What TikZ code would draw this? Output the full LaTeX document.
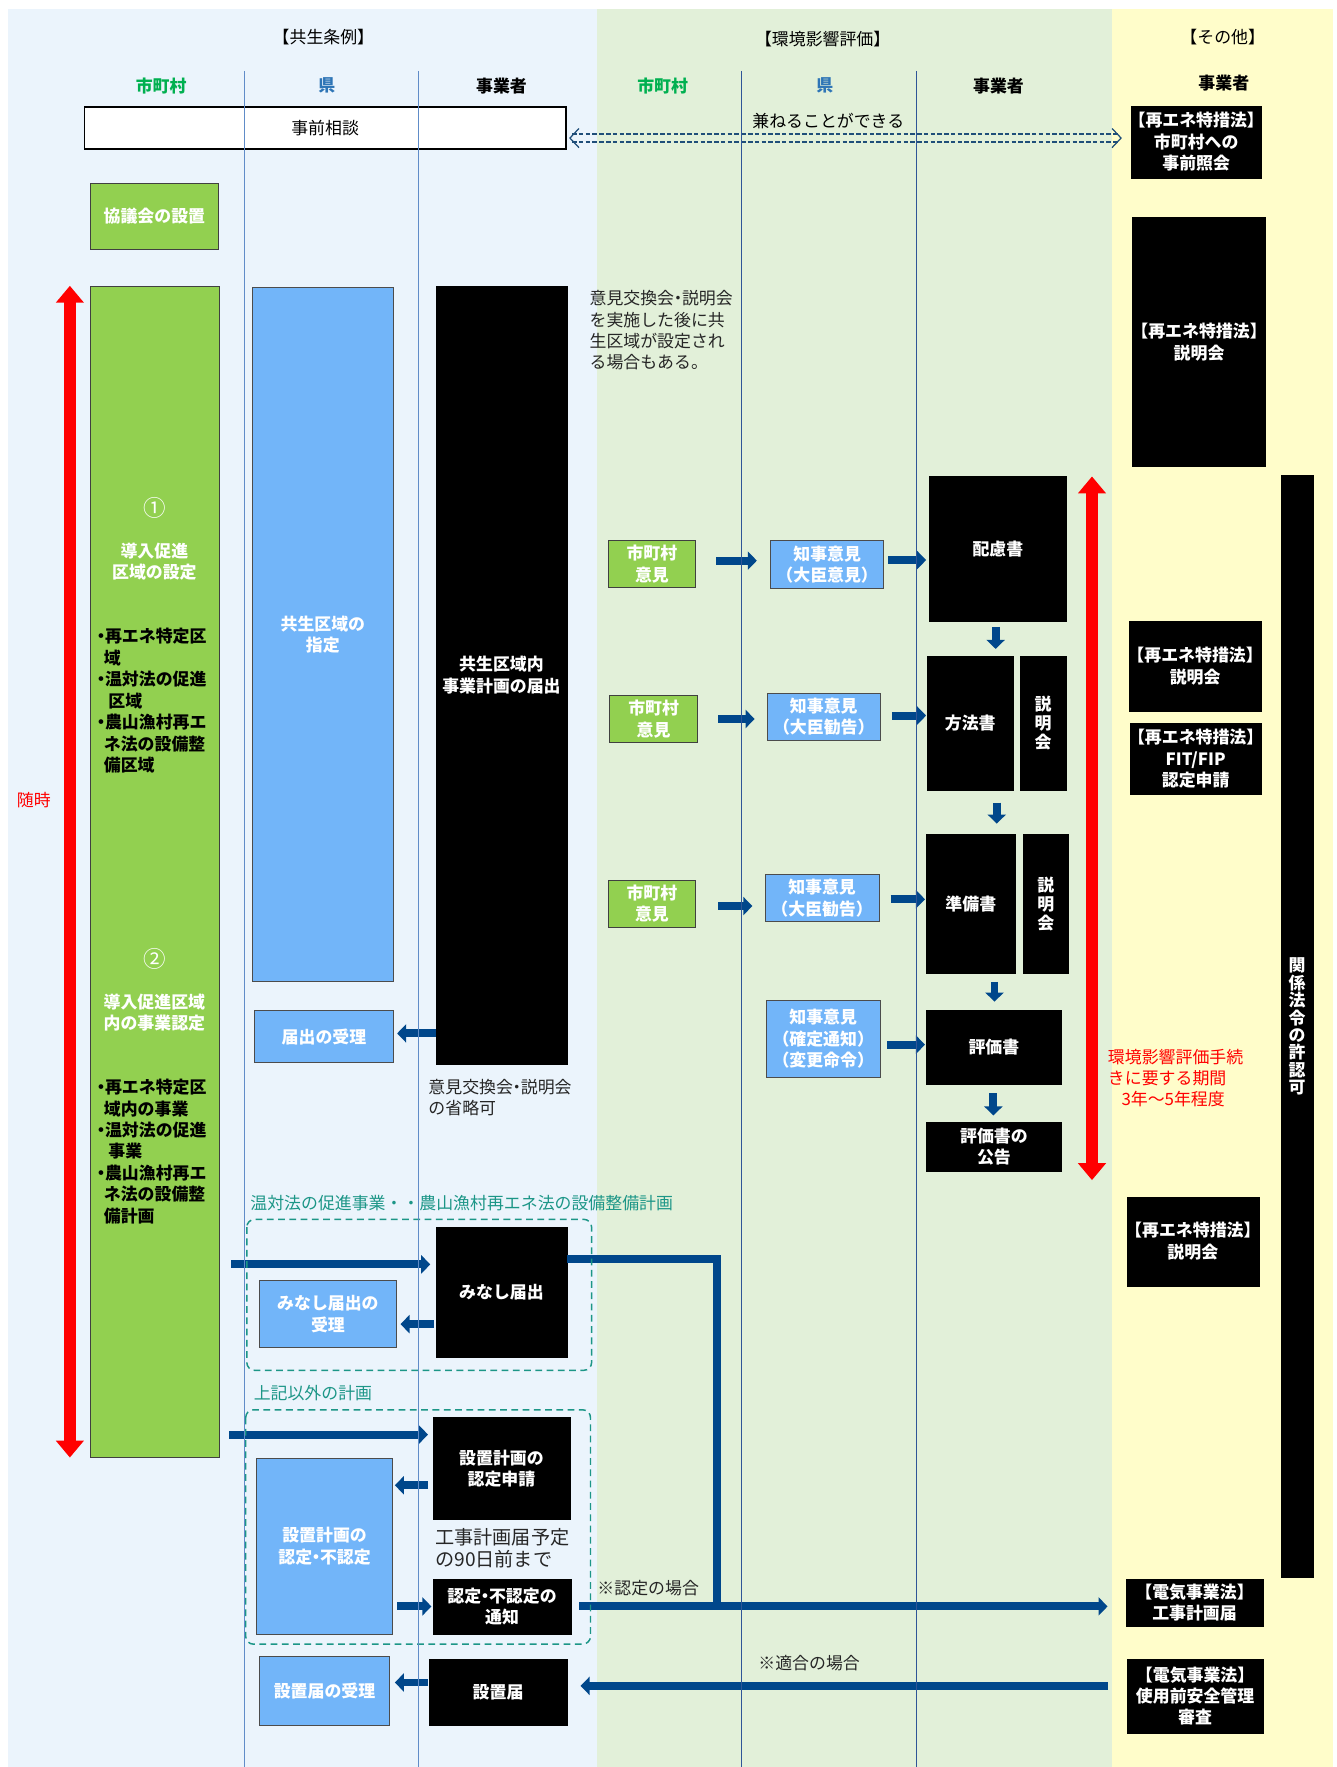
\documentclass[tikz,border=0pt]{standalone}
\usepackage{fontspec}
\setmainfont{Noto Sans CJK JP}
\usetikzlibrary{arrows.meta,calc}

\definecolor{panelA}{RGB}{235,244,252}
\definecolor{panelB}{RGB}{226,240,217}
\definecolor{panelC}{RGB}{255,253,202}
\definecolor{grnbox}{RGB}{146,208,80}
\definecolor{blubox}{RGB}{114,181,249}
\definecolor{flowblue}{RGB}{0,71,139}
\definecolor{lanea}{RGB}{96,140,200}
\definecolor{laneb}{RGB}{47,85,151}
\definecolor{tealx}{RGB}{28,150,135}
\definecolor{hdrgreen}{RGB}{0,176,80}
\definecolor{hdrblue}{RGB}{46,117,182}
\definecolor{navydash}{RGB}{31,78,121}

\newcommand\fs{\fontsize{15}{19}\selectfont}
\newcommand\jlb{\makebox[8pt][r]{【}}
\newcommand\jrb{\makebox[8pt][l]{】}}
\newcommand\jlp{\makebox[8pt][r]{（}}
\newcommand\jrp{\makebox[8pt][l]{）}}
\newcommand\nk{\makebox[7pt][c]{・}}

\begin{document}
\begin{tikzpicture}[x=1pt,y=-1pt,
  every node/.style={inner sep=0pt, font=\fs, align=center},
  sz/.style 2 args={minimum width=#1pt, minimum height=#2pt},
  blk/.style={fill=black, draw=black, text=white, font=\fs\bfseries},
  grn/.style={fill=grnbox, draw=black!75, line width=0.8pt, text=white, font=\fs\bfseries},
  blu/.style={fill=blubox, draw=black!70, line width=0.8pt, text=white, font=\fs\bfseries},
  flow/.style={draw=flowblue, line width=7pt, -{Triangle[width=16pt,length=8pt]}},
  span/.style={draw=red, line width=11pt, {Triangle[width=24pt,length=15pt]}-{Triangle[width=24pt,length=15pt]}},
  lane/.style={line width=0.9pt},
  grp/.style={draw=tealx, dash pattern=on 6pt off 4pt, line width=1.3pt, rounded corners=7pt},
  note/.style={font=\fs, text=black!85, align=left, anchor=north west},
  dsh/.style={draw=navydash, line width=1.1pt, dash pattern=on 4pt off 2pt}]

\useasboundingbox (0,0) rectangle (1186,1568);
\fill[white] (0,0) rectangle (1186,1568);

% column panels
\fill[panelA] (7,8) rectangle (530,1568);
\fill[panelB] (530,8) rectangle (987,1568);
\fill[panelC] (987,8) rectangle (1183,1568);

% panel titles and lane headers
\node (hA) at (287,33) {\jlb 共生条例\jrb};
\node (hB) at (730,35) {\jlb 環境影響評価\jrb};
\node (hC) at (1085,33) {\jlb その他\jrb};
\node[font=\fs\bfseries, text=hdrgreen] (cA1) at (143,76) {市町村};
\node[font=\fs\bfseries, text=hdrblue] (cA2) at (290,76) {県};
\node[font=\fs\bfseries] (cA3) at (445,76) {事業者};
\node[font=\fs\bfseries, text=hdrgreen] (cB1) at (588,76) {市町村};
\node[font=\fs\bfseries, text=hdrblue] (cB2) at (732,76) {県};
\node[font=\fs\bfseries] (cB3) at (886,76) {事業者};
\node[font=\fs\bfseries] (cC1) at (1086,74) {事業者};

% pre-consultation
\node[draw=black, line width=1.5pt, fill=white, sz={427}{37}] (sodan) at (288.5,113.5) {事前相談};
\node[blk, sz={115}{64}] (shokai) at (1061.5,126) {\jlb 再エネ特措法\jrb\\市町村への\\事前照会};
\node (kaneru) at (735,107) {兼ねることができる};
\coordinate (dl) at ($(sodan.east)+(3,9)$);
\coordinate (dr) at ($(shokai.west)+(-9,-3.5)$);
\draw[dsh] ($(dl)+(2,-3.5)$) -- ($(dr)+(-2,-3.5)$);
\draw[dsh] ($(dl)+(2,3.5)$) -- ($(dr)+(-2,3.5)$);
\draw[navydash, line width=1.1pt] ($(dl)+(8,-8.5)$) -- (dl) -- ($(dl)+(8,8.5)$);
\draw[navydash, line width=1.1pt] ($(dr)+(-8,-8.5)$) -- (dr) -- ($(dr)+(-8,8.5)$);

% municipality lane
\node[grn, sz={114}{58}] (kyogikai) at (137,192) {協議会の設置};
\node[grn, sz={115}{1039}] (bigG) at (137.5,773.5) {};
\node[text=white, font=\fontsize{20}{20}\selectfont] (m1) at (137,451) {①};
\node[text=white, font=\fs\bfseries] (m1t) at (137,498.5) {導入促進\\区域の設定};
\node[font=\fs\bfseries, align=left, anchor=north west] (m1b) at (86,557.5)
  {\nk 再エネ特定区\\\hspace*{6pt}域\\\nk 温対法の促進\\\hspace*{10pt}区域\\\nk 農山漁村再エ\\\hspace*{6pt}ネ法の設備整\\\hspace*{6pt}備区域};
\node[text=white, font=\fontsize{20}{20}\selectfont] (m2) at (137,851) {②};
\node[text=white, font=\fs\bfseries] (m2t) at (137,898.5) {導入促進区域\\内の事業認定};
\node[font=\fs\bfseries, align=left, anchor=north west] (m2b) at (86,957.5)
  {\nk 再エネ特定区\\\hspace*{6pt}域内の事業\\\nk 温対法の促進\\\hspace*{10pt}事業\\\nk 農山漁村再エ\\\hspace*{6pt}ネ法の設備整\\\hspace*{6pt}備計画};

% prefecture / operator lanes (ordinance)
\node[blu, sz={125}{616}] (kyosei) at (286.5,563) {共生区域の\\指定};
\node[blk, sz={116}{690}] (keikaku) at (445,599) {共生区域内\\事業計画の届出};
\node[blu, sz={123}{46}] (uketori) at (287.5,920) {届出の受理};
\node[blk, sz={116}{115}] (minashi) at (445,1146.5) {みなし届出};
\node[blu, sz={122}{60}] (minashiU) at (291,1166) {みなし届出の\\受理};
\node[blk, sz={122}{90}] (shinsei) at (445,1303) {設置計画の\\認定申請};
\node[blu, sz={120}{156}] (nintei) at (288,1372) {設置計画の\\認定\nk 不認定};
\node[blk, sz={123}{49}] (tsuchi) at (445.5,1425.5) {認定\nk 不認定の\\通知};
\node[blu, sz={116}{61}] (settiU) at (288,1500.5) {設置届の受理};
\node[blk, sz={122}{59}] (setti) at (442,1501.5) {設置届};

% environmental assessment lanes
\node[blk, sz={121}{128}] (hairyo) at (885.5,487) {配慮書};
\node[grn, sz={77}{41}] (shiG1) at (578.5,500.5) {市町村\\意見};
\node[blu, sz={100}{42}] (chiji1) at (734,501) {知事意見\\\jlp 大臣意見\jrp};
\node[blk, sz={76}{119}] (hoho) at (861,641.5) {方法書};
\node[blk, sz={41}{119}, font=\fontsize{15}{17}\selectfont\bfseries] (setsu2) at (925.5,641.5) {説\\明\\会};
\node[grn, sz={78}{42}] (shiG2) at (580,638) {市町村\\意見};
\node[blu, sz={100}{42}] (chiji2) at (731,636) {知事意見\\\jlp 大臣勧告\jrp};
\node[grn, sz={77}{42}] (shiG3) at (578.5,802) {市町村\\意見};
\node[blu, sz={101}{42}] (chiji3) at (729.5,797) {知事意見\\\jlp 大臣勧告\jrp};
\node[blk, sz={79}{124}] (junbi) at (861.5,802) {準備書};
\node[blk, sz={40}{124}, font=\fontsize{15}{17}\selectfont\bfseries] (setsu3) at (928,802) {説\\明\\会};
\node[blu, sz={101}{68}] (chiji4) at (730.5,922) {知事意見\\\jlp 確定通知\jrp\\\jlp 変更命令\jrp};
\node[blk, sz={120}{66}] (hyoka) at (882,929) {評価書};
\node[blk, sz={120}{43}] (koukoku) at (882,1017.5) {評価書の\\公告};

% other-law column
\node[blk, sz={118}{221}] (yset1) at (1064,303.5) {\jlb 再エネ特措法\jrb\\説明会};
\node[blk, sz={117}{80}] (yset2) at (1060.5,591) {\jlb 再エネ特措法\jrb\\説明会};
\node[blk, sz={116}{63}] (fit) at (1061,673.5) {\jlb 再エネ特措法\jrb\\FIT/FIP\\認定申請};
\node[blk, sz={117}{79}] (yset3) at (1058.5,1101.5) {\jlb 再エネ特措法\jrb\\説明会};
\node[blk, sz={28}{978}, font=\fontsize{15}{15.5}\selectfont\bfseries] (kyoninka) at (1151,911) {関\\係\\法\\令\\の\\許\\認\\可};
\node[blk, sz={122}{42}] (kouji) at (1060,1422) {\jlb 電気事業法\jrb\\工事計画届};
\node[blk, sz={121}{66}] (shiyomae) at (1060.5,1505) {\jlb 電気事業法\jrb\\使用前安全管理\\審査};

% period arrows
\node[text=red] (zuiji) at (30,710) {随時};
\coordinate (rl) at (62,0);
\draw[span] (rl |- bigG.north) -- (rl |- bigG.south);
\coordinate (rr) at (969,0);
\draw[span] (rr |- hairyo.north) -- ($(rr |- koukoku.south)+(0,8)$);
\node[note, text=red] (kikan) at (983,930.5) {環境影響評価手続\\きに要する期間\\\hspace*{12pt}3年～5年程度};

% assessment flow
\draw[flow] ($(shiG1.east)+(18,-3)$) -- ($(shiG1.east -| chiji1.west)+(-12,-3)$);
\draw[flow] ($(chiji1.east)+(4,-4)$) -- ($(chiji1.east -| hairyo.west)+(-3,-4)$);
\draw[flow] ($(shiG2.east)+(18,0)$) -- ($(shiG2.east -| chiji2.west)+(-11,0)$);
\draw[flow] ($(chiji2.east)+(10,-1)$) -- ($(chiji2.east -| hoho.west)+(-1,-1)$);
\draw[flow] ($(shiG3.east)+(20,2)$) -- ($(shiG3.east -| chiji3.west)+(-11,2)$);
\draw[flow] ($(chiji3.east)+(10,1)$) -- ($(chiji3.east -| junbi.west)+(-1,1)$);
\draw[flow] ($(chiji4.east)+(6,5)$) -- ($(chiji4.east -| hyoka.west)+(-1,5)$);
\draw[flow] ($(hairyo.south)+(-2,5)$) -- ($(hairyo.south |- hoho.north)+(-2,-6)$);
\draw[flow] ($(hoho.south -| hairyo.south)+(-1,11)$) -- ($(hairyo.south |- junbi.north)+(-1,-9)$);
\draw[flow] ($(junbi.south -| hairyo.south)+(-3,7)$) -- ($(hairyo.south |- hyoka.north)+(-3,-7)$);
\draw[flow] ($(hyoka.south -| hairyo.south)+(-4,8)$) -- ($(hairyo.south |- koukoku.north)+(-4,-6)$);

% ordinance flow
\draw[flow] ($(keikaku.west |- uketori.east)+(0,-3)$) -- ($(uketori.east)+(3,-3)$);
\draw[flow] ($(bigG.east |- minashi.west)+(10,-24.5)$) -- ($(minashi.west)+(-5,-24.5)$);
\draw[flow] ($(minashi.west |- minashiU.east)+(-2,9)$) -- ($(minashiU.east)+(3,9)$);
\draw[flow] ($(bigG.east |- shinsei.west)+(8,-30)$) -- ($(shinsei.west)+(-4,-30)$);
\draw[flow] ($(shinsei.west)+(-4,15)$) -- ($(shinsei.west -| nintei.east)+(2,15)$);
\draw[flow] ($(nintei.east |- tsuchi.west)+(4,0)$) -- ($(tsuchi.west)+(-1,0)$);
\draw[flow] ($(setti.west)+(-1,-8.5)$) -- ($(settiU.east |- setti.west)+(4,-8.5)$);
\draw[flow] ($(shiyomae.west)+(-17,-9)$) -- ($(setti.east)+(12,-5.5)$);
\draw[flow] ($(tsuchi.east)+(7,0)$) -- ($(tsuchi.east -| kouji.west)+(-16,0)$);
\draw[draw=flowblue, line width=7pt] ($(minashi.east)+(0,-29.5)$) -| ($(tsuchi.east)+(129,0)$);
\node[anchor=west, text=black!85] (ninteiNote) at (530,1409) {※認定の場合};
\node[text=black!85] (tekigoNote) at (718,1476) {※適合の場合};

% plan groups
\node[text=tealx, anchor=west] (grp1lbl) at (222,1068) {温対法の促進事業・・農山漁村再エネ法の設備整備計画};
\node[text=tealx, anchor=west] (grp2lbl) at (225,1236) {上記以外の計画};
\draw[grp] (219,1082) rectangle (525,1216);
\draw[grp] (218,1251) rectangle (524,1459);

% notes
\node[note] (n1) at (523,257.5) {意見交換会\nk 説明会\\を実施した後に共\\生区域が設定され\\る場合もある。};
\node[note] (n2) at (380,957.5) {意見交換会\nk 説明会\\の省略可};
\node[note, font=\fontsize{17}{19}\selectfont] (n3) at (386,1356.5) {工事計画届予定\\の90日前まで};

% lane separators
\draw[lanea, lane] (217,63) -- (217,1568);
\draw[lanea, lane] (371,63) -- (371,1568);
\draw[laneb, lane] (658,63) -- (658,1568);
\draw[laneb, lane] (813,63) -- (813,1568);
\end{tikzpicture}
\end{document}
